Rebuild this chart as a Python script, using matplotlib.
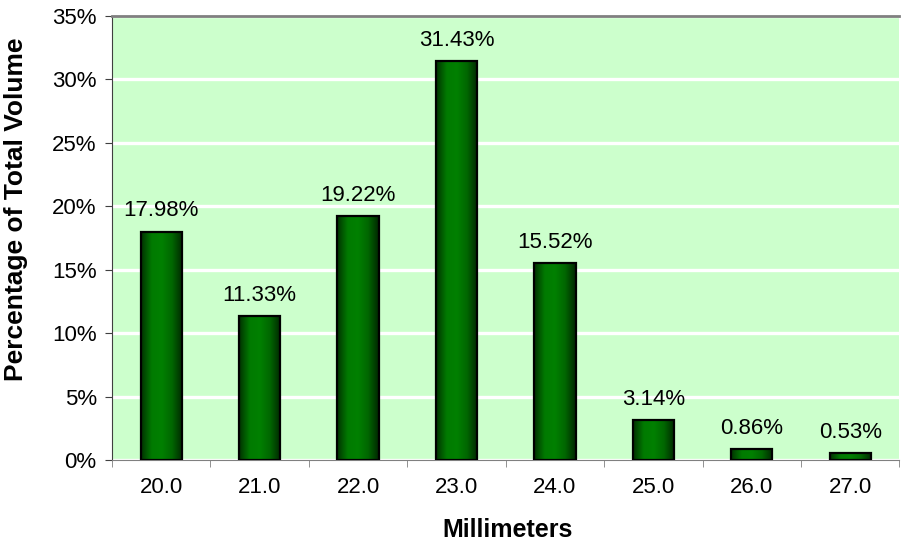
"""
Bar chart of diameter distribution (percentage of total volume)
"""
import matplotlib
matplotlib.use("Agg")
import matplotlib.pyplot as plt
import numpy as np
from matplotlib.colors import LinearSegmentedColormap
from matplotlib.ticker import FixedLocator

# data
sizes = ["20.0", "21.0", "22.0", "23.0", "24.0", "25.0", "26.0", "27.0"]
percent = [17.98, 11.33, 19.22, 31.43, 15.52, 3.14, 0.86, 0.53]

plt.rcParams['font.family'] = ['Liberation Sans', 'DejaVu Sans']

fig = plt.figure(figsize=(9.03, 5.46), dpi=100)
ax = fig.add_axes([0.124, 0.1575, 0.872, 0.8132])
ax.set_facecolor("#CCFFCC")

x = np.arange(len(sizes))
width = 0.42

# horizontal gradient: dark edges, bright green centre
cmap = LinearSegmentedColormap.from_list(
    "bar", ["#003300", "#007A00", "#008000", "#006600", "#002800"])
grad = np.linspace(0, 1, 64).reshape(1, -1)

bars = ax.bar(x, percent, width=width, facecolor="none",
              edgecolor="black", linewidth=1.6, zorder=3)
for b in bars:
    bx, by = b.get_x(), b.get_y()
    bw, bh = b.get_width(), b.get_height()
    im = ax.imshow(grad, cmap=cmap, aspect="auto",
                   extent=(bx, bx + bw, by, by + bh), zorder=2)
    im.set_clip_path(b)

for xi, v in zip(x, percent):
    ax.annotate(f"{v:.2f}%", (xi, v), xytext=(0, 7.5),
                textcoords="offset points", ha="center", va="bottom",
                fontsize=16)

ax.set_xlim(-0.5, len(sizes) - 0.5)
ax.set_ylim(0, 35)
ax.set_yticks(np.arange(0, 36, 5))
ax.set_yticklabels([f"{t}%" for t in range(0, 36, 5)])
ax.yaxis.grid(True, color="white", linewidth=2.4, zorder=1)
ax.set_axisbelow(True)

ax.set_xticks(x)
ax.set_xticklabels(sizes)
ax.tick_params(axis="x", which="major", length=0, pad=12, labelsize=16)
ax.xaxis.set_minor_locator(FixedLocator(np.arange(-0.5, len(sizes), 1)))
ax.tick_params(axis="x", which="minor", length=5, color="#808080")
ax.tick_params(axis="y", length=5, color="#404040", labelsize=16, pad=6)

for side in ["top", "right"]:
    ax.spines[side].set_visible(False)
ax.spines["left"].set_color("#404040")
ax.spines["bottom"].set_color("#808080")
ax.axhline(35, color="#808080", linewidth=2, clip_on=False, zorder=4)

# axis titles placed as in the original layout
fig.text(508 / 903, 1 - 530 / 546, "Millimeters", fontsize=18,
         fontweight="bold", ha="center", va="center")
fig.text(16 / 903, 1 - 209 / 546, "Percentage of Total Volume",
         fontsize=19, fontweight="bold", rotation=90,
         ha="center", va="center")

fig.savefig("out.png", dpi=100)
